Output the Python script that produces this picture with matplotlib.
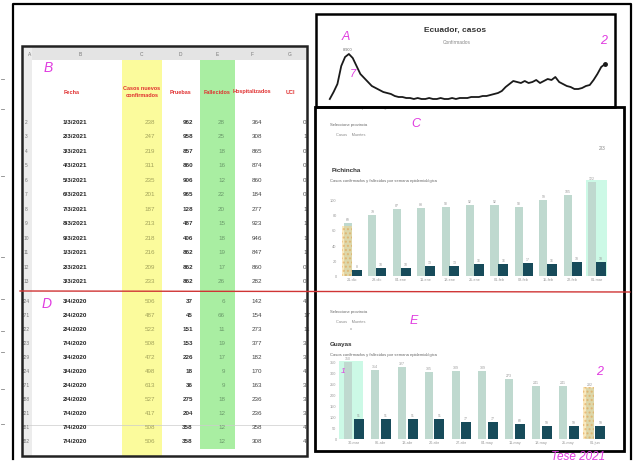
import matplotlib.pyplot as plt
import matplotlib.patches as mpatches
import numpy as np

W, H = 637, 464

# ---------------- data ----------------
# top line chart (weekly new cases)
line_cases = [5, 12, 20, 38, 47, 50, 46, 38, 30, 26, 22, 18, 16, 14, 12, 11, 10, 8, 7, 7,
              6, 6, 5, 6, 5, 5, 6, 5, 5, 6, 5, 5, 6, 5, 6, 6, 6, 7, 7, 7,
              8, 8, 9, 10, 11, 13, 17, 20, 23, 22, 21, 23, 21, 22, 24, 21, 23, 25, 24, 27,
              22, 20, 18, 17, 15, 15, 16, 18, 19, 24, 30, 37, 40]
line_tick_pos = [2, 9, 15, 64]
line_tick_labels = ['abr. 2020', 'jun.', 'ago.', 'ene. 2021']

# bar chart C
c_labels = ['21-dic', '28-dic', '04-ene', '11-ene', '18-ene', '25-ene',
            '01-feb', '08-feb', '15-feb', '22-feb', '01-mar']
c_cases = [69, 79, 87, 88, 90, 92, 92, 90, 99, 105, 122]
c_deaths = [8, 10, 10, 13, 13, 16, 16, 17, 16, 18, 18]

# bar chart E
e_labels = ['30-mar', '06-abr', '13-abr', '20-abr', '27-abr',
            '04-may', '11-may', '18-may', '25-may', '01-jun']
e_cases = [350, 314, 327, 305, 309, 309, 273, 241, 241, 232]
e_deaths = [91, 91, 91, 91, 77, 77, 68, 59, 59, 59]

# spreadsheet
col_letters = ['A', 'B', 'C', 'D', 'E', 'F', 'G']
headers = ['Fecha', 'Casos nuevos\nconfirmados', 'Pruebas', 'Fallecidos', 'Hospitalizados', 'UCI']
rows_top = ['2', '3', '4', '5', '6', '7', '8', '9', '10', '11', '12', '13']
dates_top = ['1/3/2021', '2/3/2021', '3/3/2021', '4/3/2021', '5/3/2021', '6/3/2021',
             '7/3/2021', '8/3/2021', '9/3/2021', '1/3/2021', '2/3/2021', '3/3/2021']
conf_top = [238, 247, 219, 311, 235, 201, 187, 213, 218, 216, 209, 233]
tests_top = [962, 958, 857, 860, 906, 965, 128, 487, 406, 862, 862, 862]
deaths_top = [28, 25, 18, 16, 12, 22, 20, 15, 18, 19, 17, 26]
hosp_top = [364, 308, 865, 874, 860, 184, 277, 923, 946, 847, 860, 282]
icu_top = [0, 1, 0, 0, 0, 0, 1, 1, 1, 1, 0, 0]
rows_bot = ['324', '371', '322', '323', '329', '324', '371', '388', '321', '381', '382']
dates_bot = ['3/4/2020', '2/4/2020', '2/4/2020', '7/4/2020', '3/4/2020', '3/4/2020',
             '2/4/2020', '2/4/2020', '7/4/2020', '7/4/2020', '7/4/2020']
conf_bot = [506, 487, 522, 508, 472, 498, 613, 527, 417, 508, 506]
tests_bot = [37, 45, 151, 153, 226, 18, 36, 275, 204, 358, 358]
deaths_bot = [6, 66, 11, 19, 17, 9, 9, 18, 12, 12, 12]
hosp_bot = [142, 154, 273, 377, 182, 170, 163, 236, 236, 358, 308]
icu_bot = [4, 17, 11, 3, 3, 4, 3, 3, 3, 4, 4]

LIGHT = '#bfd9cf'
DARK = '#174b5a'
MAG = '#e03ce0'
FONT = 'Liberation Sans'

plt.rcParams['font.family'] = [FONT, 'DejaVu Sans']

fig = plt.figure(figsize=(6.37, 4.64), dpi=100)
fig.patch.set_facecolor('white')


def fr(x0, y0, x1, y1):
    # pixel box -> figure fraction rect
    return [x0 / W, 1 - y1 / H, (x1 - x0) / W, (y1 - y0) / H]


# ---------------- background overlay (table) ----------------
bg = fig.add_axes([0, 0, 1, 1])
bg.set_xlim(0, W)
bg.set_ylim(H, 0)
bg.axis('off')
bg.set_zorder(0)

table_clip = mpatches.Rectangle((22, 47), 284, 410, transform=bg.transData)

# column shading
bg.add_patch(mpatches.Rectangle((122, 50), 40, 407, color='#fbfb9c', lw=0))
bg.add_patch(mpatches.Rectangle((200, 50), 35, 400, color='#a9eea2', lw=0))
bg.add_patch(mpatches.Rectangle((22, 48), 285, 13, color='#e4e4e4', lw=0))
bg.add_patch(mpatches.Rectangle((22, 48), 10, 409, color='#ececec', lw=0))
for xl, l in zip([30, 80, 142, 180, 217, 252, 290], col_letters):
    bg.text(xl, 55, l, fontsize=3.5, color='#777777', ha='center', va='center')

hx = [72, 142, 180, 217, 252, 290]
for xh, t in zip(hx, headers):
    bg.text(xh, 92, t, fontsize=4, color='#e03030', ha='center', va='center',
            fontweight='bold', linespacing=1.6)

col_x = [75, 155, 193, 225, 262, 303]


def draw_rows(ys, nums, dates, conf, tests, deaths, hosp, icu):
    for i, y in enumerate(ys):
        bg.text(26, y, nums[i], fontsize=3.5, color='#777777', ha='center', va='center')
        bg.text(col_x[0], y, dates[i], fontsize=4.5, color='#222222', ha='center',
                va='center', fontweight='bold')
        bg.text(col_x[1], y, str(conf[i]), fontsize=4.5, color='#a3a35a', ha='right', va='center')
        bg.text(col_x[2], y, str(tests[i]), fontsize=4.5, color='#333333', ha='right',
                va='center', fontweight='bold')
        bg.text(col_x[3], y, str(deaths[i]), fontsize=4.5, color='#6a9a6a', ha='right', va='center')
        bg.text(col_x[4], y, str(hosp[i]), fontsize=4.5, color='#444444', ha='right', va='center')
        t = bg.text(col_x[5], y, str(icu[i]), fontsize=4.5, color='#555555', ha='left',
                    va='center')
        t.set_clip_path(table_clip)


ys_top = np.linspace(122, 282, len(rows_top))
ys_bot = np.linspace(302, 442, len(rows_bot))
draw_rows(ys_top, rows_top, dates_top, conf_top, tests_top, deaths_top, hosp_top, icu_top)
draw_rows(ys_bot, rows_bot, dates_bot, conf_bot, tests_bot, deaths_bot, hosp_bot, icu_bot)
bg.plot([22, 307], [426, 426], color='#cccccc', lw=0.5)

# little marks in the left margin
for ym in [80, 110, 177, 258, 300, 332, 353, 390, 425]:
    bg.plot([1, 4], [ym, ym], color='#888888', lw=0.6)

# ---------------- top line chart ----------------
ax_l = fig.add_axes(fr(325, 50, 610, 105))
ax_l.set_zorder(1)
ax_l.patch.set_alpha(0)
xi = np.arange(len(line_cases))
ax_l.plot(xi, line_cases, color='#1a1a1a', lw=1.3)
ax_l.plot(xi[-1], line_cases[-1], 'o', color='#1a1a1a', ms=2.5)
ax_l.set_xlim(-1.25, len(line_cases) + 0.3)
ax_l.set_ylim(0, 55)
ax_l.set_yticks([])
ax_l.set_xticks(line_tick_pos)
ax_l.set_xticklabels(line_tick_labels, fontsize=3, color='#888888')
ax_l.tick_params(axis='x', length=0, pad=0.5)
for s in ax_l.spines.values():
    s.set_visible(False)
fig.text(455 / W, 1 - 30 / H, 'Ecuador, casos', fontsize=6, fontweight='bold',
         color='#333333', ha='center', va='center')
fig.text(443 / W, 1 - 43 / H, 'Confirmados', fontsize=3.5, color='#888888',
         ha='left', va='center')
fig.text(348 / W, 1 - 50 / H, '8.900', fontsize=2.8, color='#666666', ha='center', va='center')


# ---------------- bar charts ----------------
def bar_panel(box, labels, cases, deaths, ymax, yticks, off, wl, wd, xlim):
    ax = fig.add_axes(fr(*box))
    ax.set_zorder(1)
    ax.patch.set_alpha(0)
    x = np.arange(len(cases))
    ax.bar(x - off, cases, width=wl, color=LIGHT, zorder=2)
    ax.bar(x + off, deaths, width=wd, color=DARK, zorder=3)
    for xx, c, d in zip(x, cases, deaths):
        ax.text(xx - off, c + ymax * 0.02, str(c), fontsize=2.5, color='#999999',
                ha='center', va='bottom')
        ax.text(xx + off, d + ymax * 0.02, str(d), fontsize=2.5, color='#999999',
                ha='center', va='bottom')
    ax.set_xlim(*xlim)
    ax.set_ylim(0, ymax)
    ax.set_yticks(yticks)
    ax.set_yticklabels([str(t) for t in yticks], fontsize=2.8, color='#999999')
    ax.set_xticks(x)
    ax.set_xticklabels(labels, fontsize=2.8, color='#999999')
    ax.tick_params(length=0, pad=1)
    for s in ax.spines.values():
        s.set_visible(False)
    return ax, x


ax_c, xc = bar_panel((338, 177, 610, 277), c_labels, c_cases, c_deaths, 130,
                     [0, 20, 40, 60, 80, 100], 0.18, 0.33, 0.41, (-0.59, 10.55))
# highlighter marks
ax_c.bar(xc[-1], 125, width=0.85, color='#8ef2c8', alpha=0.45, zorder=1)
ax_c.bar(xc[0] - 0.22, c_cases[0] - 4, width=0.42, color='#f6d78a', alpha=0.55,
         hatch='....', edgecolor='#e0a050', lw=0, zorder=4)

ax_e, xe = bar_panel((338, 359, 612, 440), e_labels, e_cases, e_deaths, 368,
                     [0, 50, 100, 150, 200, 250, 300, 350], 0.2, 0.3, 0.37, (-0.58, 9.63))
ax_e.bar(xe[0] - 0.1, 355, width=0.9, color='#8ef2c8', alpha=0.45, zorder=1)
ax_e.bar(xe[-1] - 0.25, e_cases[-1] + 3, width=0.4, color='#f6d78a', alpha=0.55,
         hatch='....', edgecolor='#e0a050', lw=0, zorder=4)

# panel texts
for y0, title in [(125, 'Pichincha'), (312, 'Guayas')]:
    fig.text(330 / W, 1 - y0 / H, 'Seleccione provincia', fontsize=3, color='#666666', va='center')
    fig.text(336 / W, 1 - (y0 + 10) / H, 'Casos    Muertes', fontsize=2.8, color='#888888', va='center')
fig.text(332 / W, 1 - 170 / H, 'Pichincha', fontsize=4.5, fontweight='bold', color='#333333', va='center')
fig.text(330 / W, 1 - 181 / H, 'Casos confirmados y fallecidos por semana epidemiológica',
         fontsize=3, color='#666666', va='center')
fig.text(330 / W, 1 - 345 / H, 'Guayas', fontsize=4.5, fontweight='bold', color='#333333', va='center')
fig.text(330 / W, 1 - 355 / H, 'Casos confirmados y fallecidos por semana epidemiológica',
         fontsize=3, color='#666666', va='center')
fig.text(602 / W, 1 - 149 / H, '2/3', fontsize=3.5, color='#888888', va='center', ha='center')
fig.text(350 / W, 1 - 329 / H, 'x', fontsize=3, color='#888888', va='center')

# ---------------- foreground overlay: frames and hand notes ----------------
fg = fig.add_axes([0, 0, 1, 1])
fg.set_xlim(0, W)
fg.set_ylim(H, 0)
fg.axis('off')
fg.set_zorder(5)
fg.patch.set_alpha(0)

fg.plot([13, 13, 631, 631], [460, 5, 5, 460], color='black', lw=1.6)
fg.add_patch(mpatches.Rectangle((22, 47), 285, 410, fill=False, ec='#222222', lw=1.8))
fg.add_patch(mpatches.Rectangle((316, 15), 299, 93, fill=False, ec='black', lw=1.8))
fg.add_patch(mpatches.Rectangle((315, 108), 309, 344, fill=False, ec='black', lw=2.0))
fg.plot([20, 630], [292, 293], color='#d03434', lw=1.0)

notes = [(48, 68, 'B', 10), (47, 304, 'D', 10), (346, 37, 'A', 9), (604, 41, '2', 9),
         (353, 74, '7', 8), (416, 124, 'C', 9), (414, 321, 'E', 9), (600, 372, '2', 9),
         (343, 372, '1', 6)]
for x0, y0, t, s in notes:
    fg.text(x0, y0, t, fontsize=s, color=MAG, ha='center', va='center', style='italic')
fg.text(578, 457, 'Tese 2021', fontsize=8.5, color=MAG, ha='center', va='center', style='italic')

fig.savefig('out.png', dpi=100, facecolor='white')
